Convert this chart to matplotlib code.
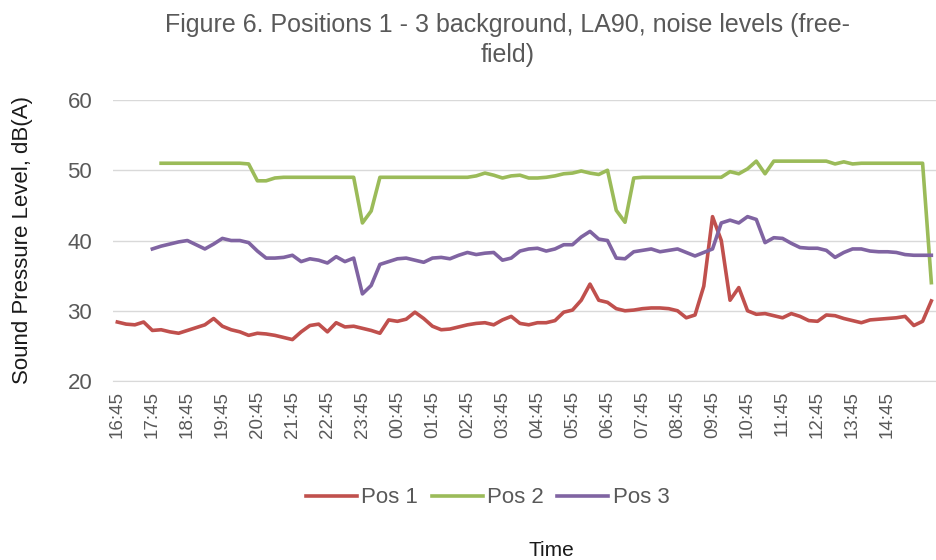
import numpy as np
import matplotlib
matplotlib.use("Agg")
import matplotlib.pyplot as plt

plt.rcParams['font.family'] = ['Liberation Sans', 'DejaVu Sans']

nan = np.nan
# 15-minute samples starting 16:45
times = []
h, m = 16, 45
for _ in range(94):
    times.append(f"{h:02d}:{m:02d}")
    m += 15
    if m == 60:
        m = 0
        h = (h + 1) % 24

pos1 = [28.4, 28.1, 28.0, 28.4, 27.2, 27.3, 27.0, 26.8, 27.2, 27.6,
        28.0, 28.9, 27.8, 27.3, 27.0, 26.5, 26.8, 26.7, 26.5, 26.2,
        25.9, 27.0, 27.9, 28.1, 27.0, 28.3, 27.7, 27.8, 27.5, 27.2,
        26.8, 28.7, 28.5, 28.8, 29.8, 28.9, 27.8, 27.3, 27.4, 27.7,
        28.0, 28.2, 28.3, 28.0, 28.7, 29.2, 28.2, 28.0, 28.3, 28.3,
        28.6, 29.8, 30.1, 31.5, 33.8, 31.5, 31.2, 30.3, 30.0, 30.1,
        30.3, 30.4, 30.4, 30.3, 30.0, 29.0, 29.4, 33.5, 43.4, 40.0,
        31.5, 33.3, 30.0, 29.5, 29.6, 29.3, 29.0, 29.6, 29.2, 28.6,
        28.5, 29.4, 29.3, 28.9, 28.6, 28.3, 28.7, 28.8, 28.9, 29.0,
        29.2, 27.9, 28.5, 31.4]

pos2 = [nan, nan, nan, nan, nan, 51.0, 51.0, 51.0, 51.0, 51.0,
        51.0, 51.0, 51.0, 51.0, 51.0, 50.9, 48.5, 48.5, 48.9, 49.0,
        49.0, 49.0, 49.0, 49.0, 49.0, 49.0, 49.0, 49.0, 42.5, 44.2,
        49.0, 49.0, 49.0, 49.0, 49.0, 49.0, 49.0, 49.0, 49.0, 49.0,
        49.0, 49.2, 49.6, 49.3, 48.9, 49.2, 49.3, 48.9, 48.9, 49.0,
        49.2, 49.5, 49.6, 49.9, 49.6, 49.4, 50.0, 44.3, 42.6, 48.9,
        49.0, 49.0, 49.0, 49.0, 49.0, 49.0, 49.0, 49.0, 49.0, 49.0,
        49.8, 49.5, 50.2, 51.3, 49.5, 51.3, 51.3, 51.3, 51.3, 51.3,
        51.3, 51.3, 50.9, 51.2, 50.9, 51.0, 51.0, 51.0, 51.0, 51.0,
        51.0, 51.0, 51.0, 34.0]

pos3 = [nan, nan, nan, nan, 38.8, 39.2, 39.5, 39.8, 40.0, 39.4,
        38.8, 39.5, 40.3, 40.0, 40.0, 39.7, 38.5, 37.5, 37.5, 37.6,
        37.9, 37.0, 37.4, 37.2, 36.8, 37.7, 37.0, 37.5, 32.4, 33.6,
        36.6, 37.0, 37.4, 37.5, 37.2, 36.9, 37.5, 37.6, 37.4, 37.9,
        38.3, 38.0, 38.2, 38.3, 37.2, 37.5, 38.5, 38.8, 38.9, 38.5,
        38.8, 39.4, 39.4, 40.5, 41.3, 40.2, 40.0, 37.5, 37.4, 38.4,
        38.6, 38.8, 38.4, 38.6, 38.8, 38.3, 37.8, 38.3, 38.8, 42.5,
        42.9, 42.5, 43.4, 43.0, 39.7, 40.4, 40.3, 39.6, 39.0, 38.9,
        38.9, 38.6, 37.6, 38.3, 38.8, 38.8, 38.5, 38.4, 38.4, 38.3,
        38.0, 37.9, 37.9, 37.9]

tick_labels = times[0:89:4]

c1, c2, c3 = '#C0504D', '#9BBB59', '#8064A2'
txt = '#595959'

fig = plt.figure(figsize=(9.36, 5.6), dpi=100)
ax = fig.add_axes([0.1207, 0.3196, 0.879, 0.5018])
x = np.arange(len(times))
ax.plot(x, pos1, color=c1, lw=2.6, label='Pos 1', solid_joinstyle='round')
ax.plot(x, pos2, color=c2, lw=2.6, label='Pos 2', solid_joinstyle='round')
ax.plot(x, pos3, color=c3, lw=2.6, label='Pos 3', solid_joinstyle='round')

ax.set_xlim(-0.5, len(times) - 0.5)
ax.set_ylim(20, 60)
ax.set_yticks([20, 30, 40, 50, 60])
ax.set_xticks(np.arange(0, 89, 4))
ax.set_xticklabels(tick_labels, rotation=90)
ax.grid(axis='y', color='#D9D9D9', lw=1.0)
ax.set_axisbelow(True)
for s in ['top', 'right', 'left']:
    ax.spines[s].set_visible(False)
ax.spines['bottom'].set_color('#D9D9D9')
ax.tick_params(axis='both', length=0, colors=txt)
ax.tick_params(axis='y', pad=15, labelsize=16)
ax.tick_params(axis='x', pad=7, labelsize=13.5)

ax.set_ylabel('Sound Pressure Level, dB(A)', fontsize=16, color='#1a1a1a')
ax.yaxis.set_label_coords(-0.097, 0.502)

fig.text(0.542, 0.928, 'Figure 6. Positions 1 - 3 background, LA90, noise levels (free-\nfield)',
         ha='center', va='center', fontsize=18, color=txt, linespacing=1.3)

fig.legend(loc='center', bbox_to_anchor=(0.521, 0.111), ncol=3, frameon=False,
           fontsize=16, handlelength=2.3, columnspacing=0.6, handletextpad=0.2,
           labelcolor=txt)
fig.text(0.589, 0.017, 'Time', ha='center', va='center', fontsize=15, color='#1a1a1a')

fig.savefig('out.png', dpi=100)
